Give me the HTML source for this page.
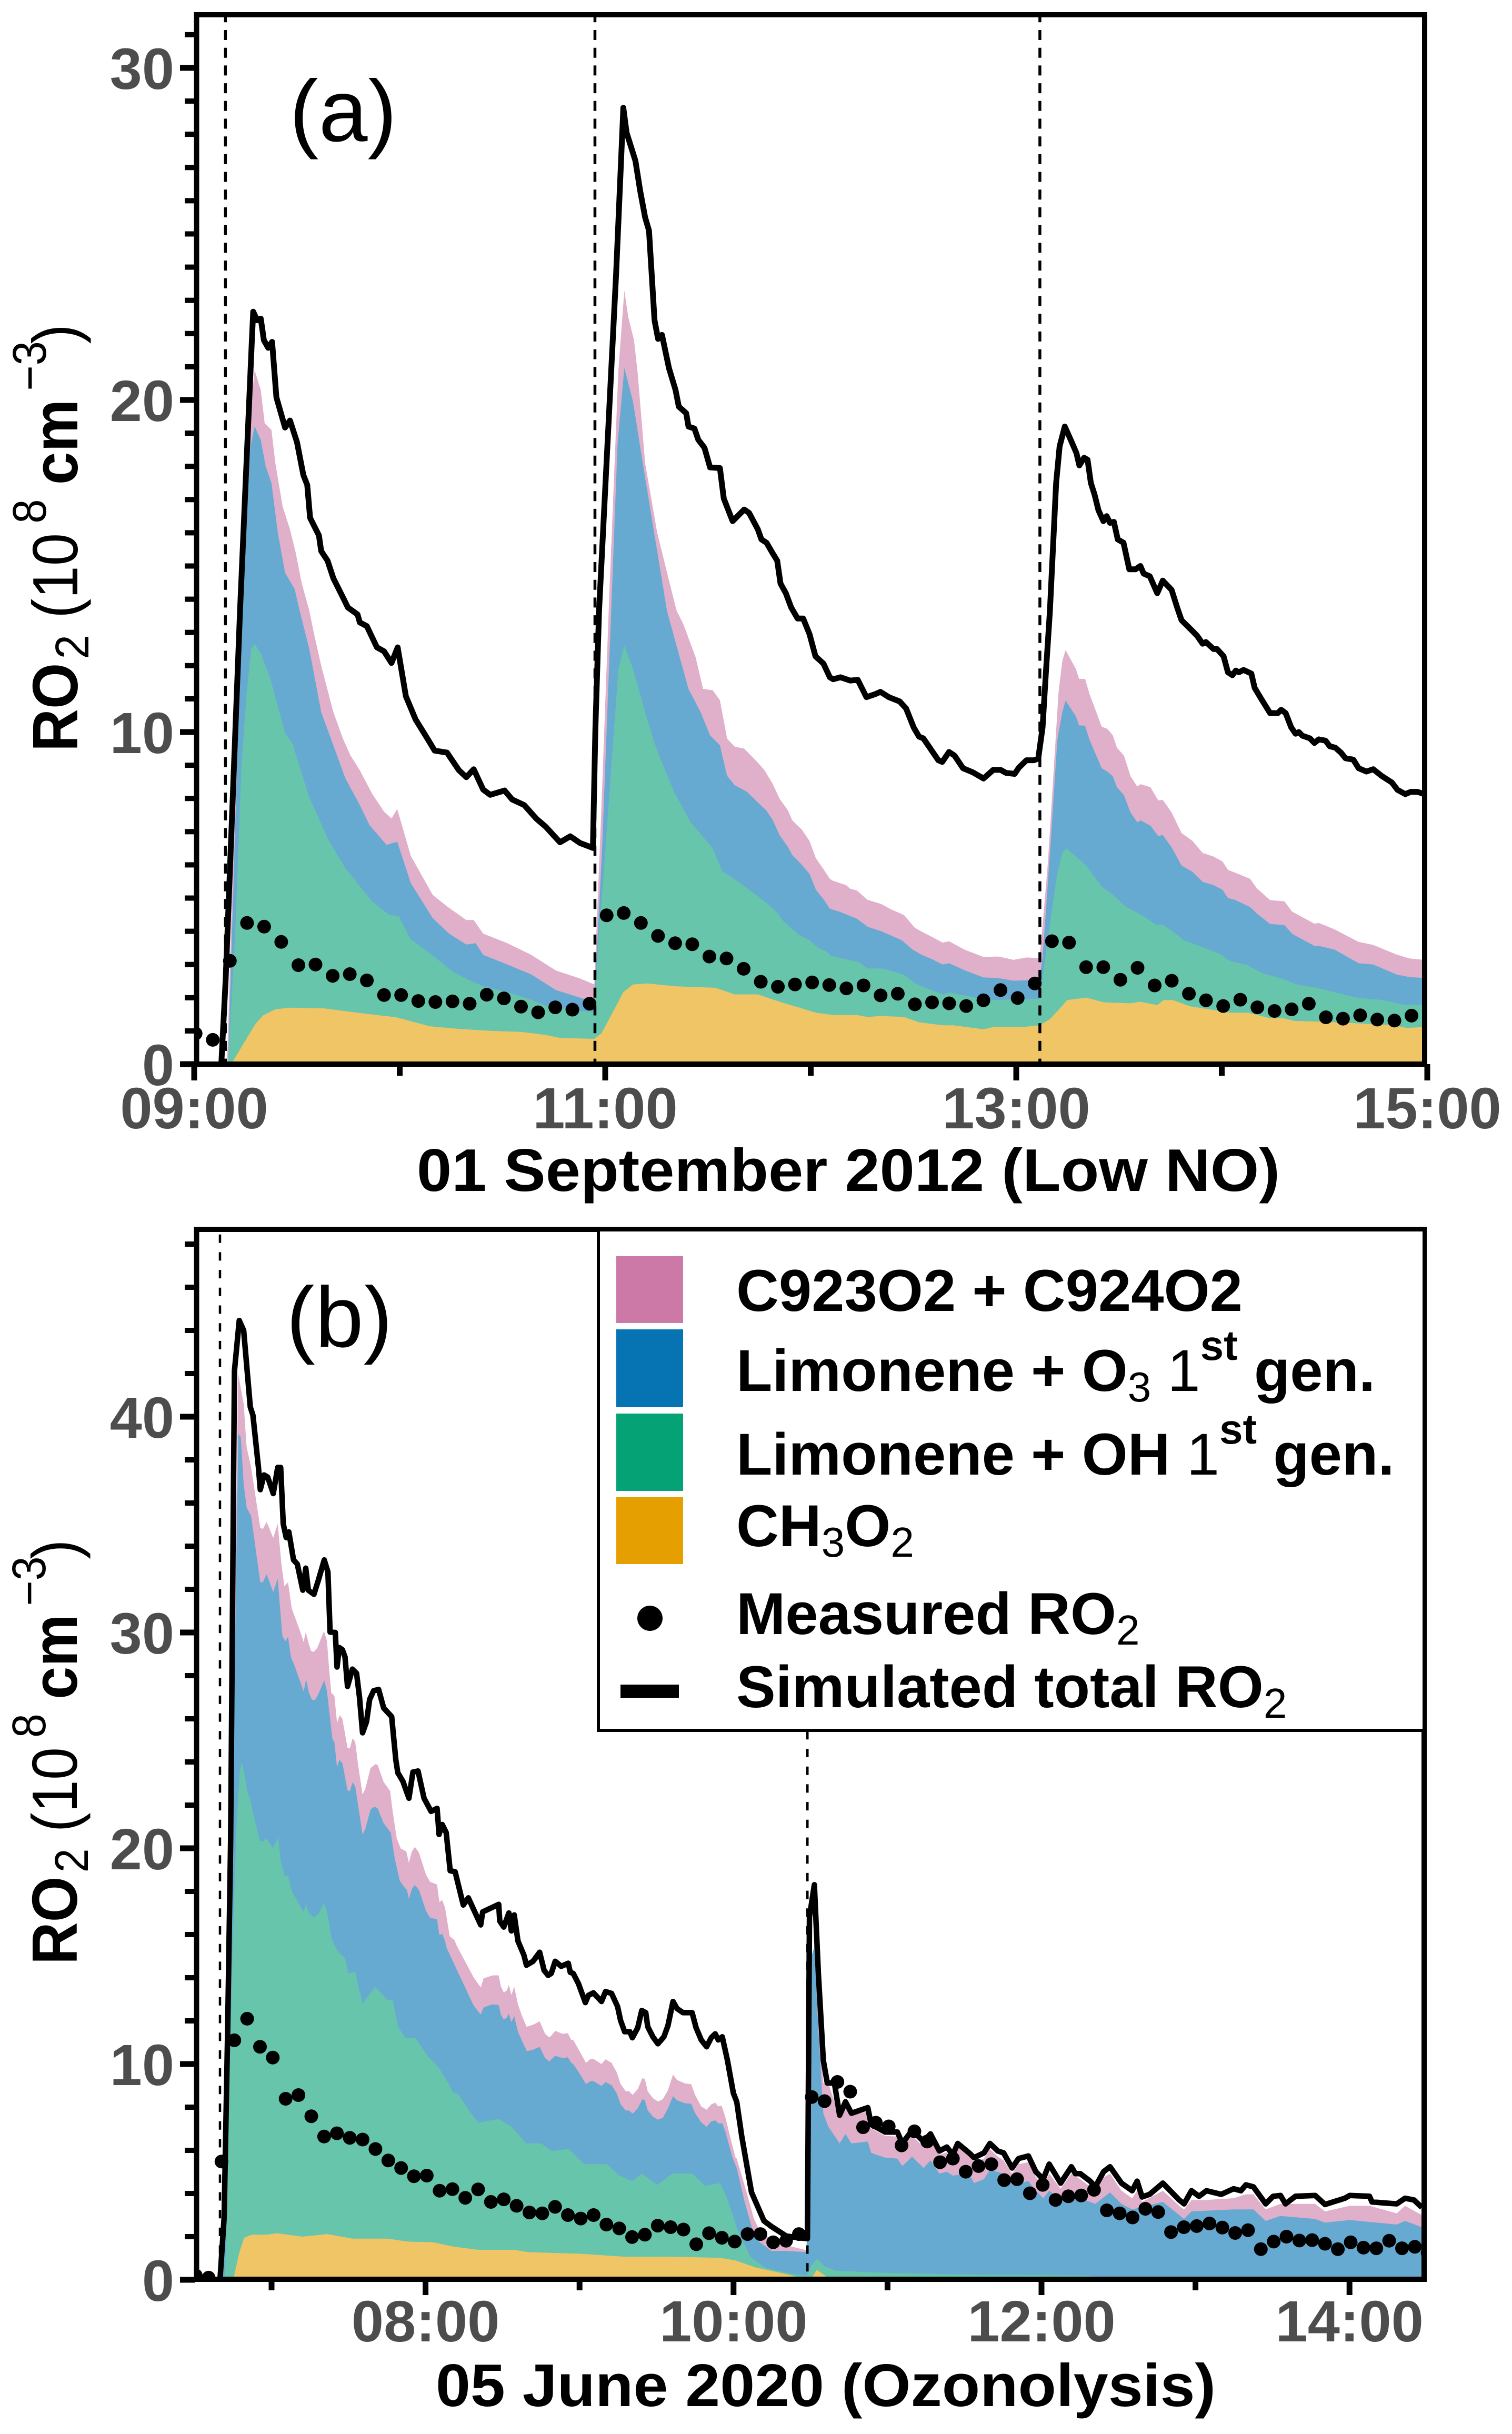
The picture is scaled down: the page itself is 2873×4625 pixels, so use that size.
<!DOCTYPE html>
<html lang="en">
<head>
<meta charset="utf-8">
<title>RO2 time series chart</title>
<style>
html,body{margin:0;padding:0;background:#fff;}
svg{display:block;font-family:"Liberation Sans",Arial,sans-serif;}
</style>
</head>
<body>
<svg id="chart" xmlns="http://www.w3.org/2000/svg" width="2873" height="4625" viewBox="0 0 2873 4625">
<defs>
<clipPath id="clipA"><rect x="374" y="28" width="2333" height="1994"/></clipPath>
<clipPath id="clipB"><rect x="374" y="2336" width="2332" height="1996"/></clipPath>
<clipPath id="clipLabelA"><rect x="500" y="148" width="300" height="155"/></clipPath>
<clipPath id="clipLabelB"><rect x="500" y="2441" width="300" height="153"/></clipPath>
</defs>
<rect x="0" y="0" width="2873" height="4625" fill="#ffffff"/>

<g id="panelA"></g>
<g id="panelB"></g>

<g clip-path="url(#clipLabelA)"><text x="550" y="268" font-size="167" fill="#000">(a)</text></g>
<g clip-path="url(#clipLabelB)"><text x="544" y="2559" font-size="165" fill="#000">(b)</text></g>

<text transform="translate(147,1428) rotate(-90) scale(0.92,1)" font-size="122" fill="#000"><tspan font-weight="bold">RO</tspan><tspan font-size="90" x="191" dy="21">2</tspan><tspan x="275" dy="-21">(10</tspan><tspan font-size="90" x="471" dy="-60">8</tspan><tspan x="551" dy="60" font-weight="bold">cm</tspan><tspan font-size="90" x="745" dy="-60">&#8722;3</tspan><tspan x="842" dy="60">)</tspan></text>
<text transform="translate(146,3733) rotate(-90) scale(0.915,1)" font-size="122" fill="#000"><tspan font-weight="bold">RO</tspan><tspan font-size="90" x="191" dy="21">2</tspan><tspan x="275" dy="-21">(10</tspan><tspan font-size="90" x="471" dy="-60">8</tspan><tspan x="551" dy="60" font-weight="bold">cm</tspan><tspan font-size="90" x="745" dy="-60">&#8722;3</tspan><tspan x="842" dy="60">)</tspan></text>

<text x="792" y="2263" font-size="114" font-weight="bold" fill="#000" textLength="1640" lengthAdjust="spacingAndGlyphs">01 September 2012 (Low NO)</text>
<text x="828" y="4572" font-size="114" font-weight="bold" fill="#000" textLength="1482" lengthAdjust="spacingAndGlyphs">05 June 2020 (Ozonolysis)</text>

<g>
<rect x="1137" y="2336" width="1569" height="952" fill="#ffffff" stroke="#000" stroke-width="6"/>
<rect x="1137" y="2332" width="1569" height="8" fill="#000"/>
<rect x="1171" y="2387" width="127" height="127" fill="#CC79A7"/>
<rect x="1171" y="2526" width="127" height="148" fill="#0673B3"/>
<rect x="1171" y="2686" width="127" height="147" fill="#05A275"/>
<rect x="1171" y="2845" width="127" height="127" fill="#E69F00"/>
<circle cx="1235" cy="3075" r="24" fill="#000"/>
<rect x="1179" y="3201" width="111" height="25" fill="#000"/>
<g font-size="112" font-weight="bold" fill="#000">
<text x="1399" y="2491">C923O2 + C924O2</text>
<text x="1399" y="2643">Limonene + O<tspan font-size="80" font-weight="normal" dy="20">3</tspan><tspan dy="-20" font-weight="normal"> 1</tspan><tspan font-size="80" dy="-59">st</tspan><tspan dy="59"> gen.</tspan></text>
<text x="1399" y="2802">Limonene + OH <tspan font-weight="normal">1</tspan><tspan font-size="80" dy="-59">st</tspan><tspan dy="59"> gen.</tspan></text>
<text x="1399" y="2938">CH<tspan font-size="80" font-weight="normal" dy="20">3</tspan><tspan dy="-20">O</tspan><tspan font-size="80" font-weight="normal" dy="20">2</tspan></text>
<text x="1399" y="3105">Measured RO<tspan font-size="80" font-weight="normal" dy="20">2</tspan></text>
<text x="1399" y="3244">Simulated total RO<tspan font-size="80" font-weight="normal" dy="20">2</tspan></text>
</g>
</g>
</svg>

<script>
/* ---------- Panel (a): 01 September 2012 ---------- */
const aYMajorLabels = [0, 10, 20, 30];
const aYMinorTicks = [1,2,3,4,5,6,7,8,9,11,12,13,14,15,16,17,18,19,21,22,23,24,25,26,27,28,29,31];
const aXMajorHours = [9, 11, 13, 15];
const aXMajorLabels = ['09:00', '11:00', '13:00', '15:00'];
const aXMinorHours = [10, 12, 14];
const aDashHours = [9.152, 10.95, 13.115];

const aTotalT = [9.132,9.153,9.223,9.28,9.287,9.306,9.324,9.339,9.36,9.379,9.4,9.442,9.466,9.5,9.531,9.55,9.564,9.607,9.618,9.649,9.677,9.72,9.748,9.795,9.806,9.84,9.889,9.924,9.96,9.99,10.03,10.077,10.136,10.17,10.23,10.288,10.324,10.36,10.406,10.44,10.51,10.547,10.606,10.665,10.71,10.78,10.83,10.877,10.94,10.952,10.97,11.053,11.078,11.088,11.104,11.147,11.17,11.194,11.213,11.24,11.257,11.276,11.31,11.342,11.358,11.394,11.405,11.434,11.453,11.483,11.51,11.558,11.577,11.62,11.676,11.7,11.743,11.76,11.785,11.813,11.837,11.853,11.879,11.905,11.936,11.963,11.994,12.023,12.062,12.093,12.109,12.145,12.192,12.229,12.271,12.313,12.339,12.38,12.433,12.464,12.501,12.527,12.548,12.59,12.621,12.64,12.673,12.7,12.741,12.788,12.841,12.888,12.924,12.95,12.992,13.013,13.05,13.086,13.107,13.128,13.144,13.164,13.194,13.211,13.236,13.265,13.293,13.307,13.33,13.347,13.363,13.381,13.4,13.424,13.44,13.456,13.475,13.494,13.522,13.55,13.58,13.604,13.62,13.65,13.686,13.713,13.756,13.783,13.804,13.858,13.88,13.907,13.923,13.96,13.977,14.009,14.03,14.052,14.068,14.084,14.106,14.144,14.16,14.192,14.235,14.273,14.289,14.311,14.338,14.359,14.375,14.392,14.429,14.451,14.472,14.505,14.526,14.553,14.58,14.602,14.64,14.666,14.704,14.737,14.78,14.828,14.855,14.893,14.92,14.952,15];
const aTotalV = [0,2.52,13.66,21.7,22.66,22.4,22.45,21.8,21.57,21.75,20.08,19.17,19.38,18.73,17.74,17.44,16.45,15.92,15.45,15.16,14.63,14.1,13.75,13.54,13.3,13.19,12.55,12.43,12.08,12.55,11.08,10.38,9.79,9.44,9.38,8.85,8.64,8.88,8.27,8.11,8.24,7.97,7.8,7.39,7.15,6.68,6.86,6.66,6.51,10.1,13.66,23.8,27.35,28.8,28.05,27.2,26.3,25.5,25.1,22.4,21.84,21.96,20.96,20.3,19.8,19.6,19.2,19.14,18.8,18.56,17.97,17.95,17.03,16.35,16.7,16.6,16.1,15.8,15.7,15.4,15.16,14.47,14.18,13.75,13.42,13.42,12.95,12.28,12.06,11.65,11.59,11.65,11.55,11.57,11.05,11.14,11.21,11.05,10.92,10.71,10.14,9.86,9.81,9.43,9.15,9.1,9.4,9.29,8.91,8.79,8.6,8.86,8.86,8.77,8.74,8.93,9.15,9.15,9.2,10.14,11.76,13.66,17.5,18.6,19.2,18.8,18.4,18.03,18.26,18.2,17.5,17.15,16.68,16.35,16.5,16.3,16.33,15.8,15.7,14.9,14.9,15.0,14.77,14.69,14.18,14.56,14.28,13.75,13.37,13.04,12.9,12.66,12.71,12.5,12.5,12.28,11.8,11.71,11.85,11.8,11.87,11.76,11.33,11.0,10.57,10.57,10.67,10.57,10.14,9.95,10.0,9.89,9.81,9.67,9.78,9.74,9.57,9.53,9.38,9.21,9.17,8.91,8.81,8.88,8.67,8.48,8.26,8.13,8.2,8.2,8.1];

const aPinkT = [9.16,9.215,9.266,9.294,9.324,9.343,9.376,9.395,9.43,9.466,9.494,9.524,9.56,9.583,9.618,9.677,9.724,9.76,9.806,9.865,9.924,9.96,9.988,10.054,10.16,10.23,10.324,10.36,10.406,10.524,10.64,10.76,10.877,10.947,10.98,11.022,11.064,11.093,11.112,11.14,11.158,11.194,11.253,11.31,11.347,11.38,11.44,11.476,11.523,11.558,11.593,11.63,11.676,11.743,11.774,11.816,11.848,11.89,11.91,11.957,11.994,12.025,12.062,12.093,12.109,12.172,12.192,12.224,12.276,12.344,12.391,12.454,12.506,12.537,12.59,12.642,12.673,12.747,12.84,12.914,12.987,13.05,13.113,13.123,13.154,13.206,13.224,13.24,13.29,13.306,13.335,13.357,13.416,13.443,13.47,13.49,13.524,13.556,13.589,13.605,13.653,13.691,13.713,13.756,13.804,13.858,13.907,13.96,14.004,14.03,14.063,14.138,14.17,14.235,14.305,14.343,14.451,14.472,14.548,14.666,14.737,14.85,14.914,15];
const aPinkTop = [0,12,19.14,20.9,20.3,19.3,19.1,18.1,16.8,16.1,15.4,14.46,13.66,12.96,12.0,10.6,9.8,9.3,8.85,8.15,7.6,7.4,7.68,6.27,5.1,4.75,4.34,4.34,3.93,3.64,3.29,2.82,2.58,2.4,7.5,14.5,20.9,23.3,22.5,21.8,20.8,18.1,16,14.57,13.66,13.25,12.25,11.3,11.26,10.96,9.8,9.56,9.5,9.08,8.86,8.43,8.0,7.63,7.34,7.06,6.72,6.2,5.87,5.58,5.52,5.39,5.28,5.23,4.95,4.82,4.66,4.49,4.11,4.0,3.83,3.66,3.7,3.45,3.23,3.24,3.14,3.21,3.19,3.8,6.06,11.2,12.14,12.47,11.9,11.6,11.6,11.14,10.16,10.1,9.9,9.53,9.29,8.67,8.36,8.43,8.34,7.94,7.96,7.58,6.96,6.72,6.36,6.25,6.1,5.85,5.77,5.58,5.3,4.94,4.9,4.59,4.23,4.25,4.06,3.68,3.59,3.3,3.18,3.13];

const aBlueT = [9.165,9.223,9.254,9.273,9.294,9.324,9.348,9.376,9.407,9.442,9.489,9.513,9.56,9.618,9.677,9.736,9.806,9.853,9.936,9.988,10.054,10.16,10.24,10.324,10.37,10.406,10.524,10.64,10.76,10.877,10.947,10.985,11.025,11.06,11.093,11.135,11.18,11.3,11.347,11.405,11.464,11.51,11.558,11.593,11.63,11.69,11.743,11.785,11.816,11.848,11.89,11.91,11.957,11.994,12.025,12.062,12.093,12.14,12.224,12.276,12.344,12.443,12.495,12.537,12.59,12.642,12.673,12.747,12.84,12.914,12.987,13.113,13.128,13.165,13.2,13.224,13.24,13.29,13.306,13.335,13.357,13.416,13.443,13.47,13.49,13.524,13.556,13.589,13.605,13.653,13.691,13.713,13.756,13.804,13.858,13.907,13.96,14.004,14.03,14.063,14.138,14.17,14.235,14.305,14.343,14.451,14.472,14.548,14.666,14.737,14.85,14.914,15];
const aBlueTop = [0,12,16.2,18.56,19.2,18.8,18.0,17.5,16.0,14.8,14.3,13.66,12.5,10.6,9.6,8.6,7.8,7.2,6.6,6.7,5.45,4.4,3.93,3.6,3.64,3.29,3.0,2.7,2.23,2.0,1.87,6.5,13,18.67,20.96,19.96,18.2,13.66,12.6,11.3,10.6,9.9,9.6,8.68,8.4,8.2,7.88,7.63,7.34,6.9,6.53,6.3,6.0,5.73,5.25,4.97,4.68,4.59,4.38,4.14,4.0,3.73,3.45,3.3,3.16,3.0,3.04,2.83,2.61,2.59,2.51,2.54,3.2,6.44,9.76,10.6,10.95,10.48,10.2,10.19,9.76,8.91,8.81,8.67,8.34,8.1,7.58,7.28,7.34,7.18,6.87,6.9,6.53,5.98,5.79,5.49,5.39,5.25,5.0,4.95,4.73,4.54,4.22,4.19,3.92,3.56,3.56,3.45,3.04,3.0,2.7,2.62,2.59];

const aGreenT = [9.165,9.2,9.23,9.254,9.277,9.294,9.324,9.371,9.442,9.477,9.56,9.654,9.736,9.865,9.948,9.995,10.054,10.16,10.254,10.324,10.406,10.524,10.64,10.71,10.877,10.947,10.97,10.99,11.03,11.064,11.093,11.135,11.194,11.24,11.264,11.335,11.417,11.523,11.57,11.63,11.743,11.827,11.868,11.94,11.994,12.036,12.077,12.098,12.234,12.276,12.35,12.454,12.516,12.642,12.673,12.83,12.893,13.113,13.123,13.165,13.2,13.224,13.243,13.29,13.337,13.382,13.416,13.47,13.535,13.61,13.686,13.713,13.761,13.815,13.9,13.998,14.041,14.117,14.203,14.3,14.365,14.462,14.656,14.785,14.893,15];
const aGreenTop = [0,4,8.97,11.1,12.5,12.66,12.37,11.6,9.97,9.67,8.03,6.74,5.9,4.9,4.5,4.46,3.75,3.28,2.8,2.57,2.34,2.17,1.94,1.76,1.6,1.58,4.05,5.5,9,11.9,12.6,11.9,10.6,9.67,9.26,8.2,7.27,6.5,5.8,5.57,5.06,4.63,4.3,3.9,3.73,3.5,3.4,3.26,3.07,2.88,2.88,2.69,2.4,2.1,2.16,1.97,1.93,1.97,2.4,4.25,5.77,6.34,6.5,6.25,6.0,5.63,5.35,5.1,4.73,4.49,4.18,4.2,4.0,3.73,3.54,3.3,3.1,3.0,2.73,2.56,2.4,2.3,2.0,1.93,1.78,1.78];

const aYellowT = [9.18,9.254,9.3,9.336,9.395,9.466,9.63,9.818,9.983,10.147,10.288,10.45,10.594,10.71,10.78,10.947,10.982,11.04,11.088,11.135,11.205,11.347,11.535,11.63,11.743,11.848,11.94,12.025,12.109,12.224,12.276,12.339,12.454,12.527,12.642,12.694,12.84,12.893,13.04,13.113,13.165,13.227,13.248,13.342,13.427,13.556,13.6,13.686,13.718,13.761,13.847,14.041,14.128,14.235,14.3,14.354,14.472,14.623,14.84,14.898,15];
const aYellowTop = [0,0.76,1.23,1.47,1.65,1.7,1.68,1.53,1.41,1.14,1.06,1.0,0.97,0.88,0.79,0.76,0.93,1.6,2.17,2.4,2.43,2.34,2.3,2.1,2.1,1.88,1.71,1.55,1.48,1.48,1.42,1.45,1.42,1.26,1.17,1.17,1.05,1.12,1.12,1.17,1.36,1.78,1.93,2.0,1.86,1.83,1.88,1.78,1.93,1.93,1.74,1.55,1.55,1.38,1.38,1.3,1.28,1.24,1.17,1.09,1.12];

const aMeasuredStartHour = 9.007;
const aMeasuredStepHours = 0.08333;
const aMeasured = [0.92,0.73,3.11,4.25,4.14,3.68,2.98,3.0,2.66,2.71,2.52,2.08,2.08,1.9,1.87,1.89,1.82,2.09,1.98,1.73,1.56,1.71,1.64,1.82,4.48,4.55,4.25,3.86,3.64,3.61,3.24,3.18,2.87,2.48,2.33,2.4,2.46,2.38,2.28,2.37,2.07,2.12,1.8,1.86,1.83,1.75,1.92,2.23,1.99,2.43,3.7,3.66,2.92,2.92,2.54,2.9,2.37,2.51,2.12,1.92,1.75,1.94,1.71,1.6,1.65,1.82,1.41,1.37,1.47,1.34,1.31,1.46];

/* ---------- Panel (b): 05 June 2020 ---------- */
const bYMajorLabels = [0, 10, 20, 30, 40];
const bYMinorTicks = [2,4,6,8,12,14,16,18,22,24,26,28,32,34,36,38,42,44,46,48];
const bXMajorHours = [8, 10, 12, 14];
const bXMajorLabels = ['08:00', '10:00', '12:00', '14:00'];
const bXMinorHours = [7, 9, 11, 13];
const bDashHours = [6.665, 10.48];

const bTotalT = [6.666,6.692,6.715,6.734,6.759,6.79,6.819,6.862,6.879,6.915,6.927,6.951,6.975,7.011,7.04,7.059,7.076,7.095,7.112,7.143,7.167,7.203,7.222,7.239,7.275,7.304,7.342,7.366,7.38,7.414,7.425,7.44,7.46,7.477,7.493,7.525,7.552,7.571,7.591,7.617,7.637,7.663,7.695,7.728,7.78,7.807,7.82,7.853,7.892,7.918,7.951,7.99,8.036,8.075,8.088,8.108,8.134,8.16,8.192,8.245,8.278,8.358,8.371,8.475,8.482,8.508,8.541,8.557,8.576,8.6,8.639,8.655,8.698,8.741,8.77,8.796,8.816,8.842,8.881,8.927,8.94,8.959,8.992,9.038,9.057,9.09,9.143,9.169,9.208,9.247,9.267,9.293,9.326,9.343,9.378,9.404,9.43,9.443,9.476,9.509,9.548,9.574,9.607,9.633,9.672,9.731,9.757,9.79,9.825,9.855,9.881,9.901,9.927,9.96,9.999,10.021,10.053,10.117,10.198,10.246,10.342,10.422,10.48,10.493,10.525,10.551,10.583,10.609,10.655,10.689,10.727,10.766,10.872,10.894,10.984,11.064,11.096,11.16,11.234,11.279,11.337,11.385,11.424,11.456,11.53,11.562,11.626,11.665,11.716,11.754,11.809,11.851,11.915,11.963,12.011,12.05,12.124,12.194,12.22,12.252,12.316,12.349,12.403,12.445,12.519,12.589,12.621,12.653,12.702,12.788,12.894,12.926,12.974,13.023,13.071,13.167,13.247,13.295,13.327,13.376,13.456,13.504,13.552,13.584,13.649,13.777,13.841,13.97,14.002,14.13,14.146,14.227,14.307,14.361,14.419,14.47];
const bTotalV = [0.1,2.9,11.6,20.3,42.13,44.46,44.0,40.45,40.07,37.65,36.62,37.3,37.2,36.44,37.65,37.65,35.04,34.4,34.66,33.36,33.17,31.96,32.98,31.96,31.77,32.43,33.36,32.8,30.02,30,28.4,29.3,29.2,28.86,27.5,28.3,28.11,27,25.35,25.87,26.9,27.3,27.36,26.5,26.1,24.1,23.5,23.1,22.32,23.53,23.58,22.32,21.71,21.85,20.64,21.1,20.73,18.96,18.91,17.37,17.7,16.45,17.05,17.4,16.63,16.35,17.0,16.17,16.91,15.7,15.04,14.58,14.76,15.18,14.34,14.11,14.2,14.76,14.53,14.67,14.25,14.2,13.74,12.85,13.18,13.3,12.9,13.36,13.27,12.66,12.01,11.5,11.5,11.22,11.68,12.48,12.38,11.73,11.26,10.94,11.26,11.78,12.9,12.57,12.38,12.38,11.68,11.12,10.8,11.22,11.4,11.12,11.26,10.19,8.65,8.25,6.67,4.05,2.73,2.47,2.03,1.95,1.91,16.82,18.31,14.2,10.17,9.12,9.12,7.63,8.25,7.72,7.98,7.2,6.85,6.85,6.32,6.93,6.41,6.76,5.97,6.15,5.8,6.32,5.88,5.66,5.88,6.32,5.97,5.88,5.18,5.62,5.74,5.01,4.66,5.36,4.48,5.24,4.92,4.92,4.57,4.31,5.01,5.24,4.48,4.13,4.57,3.84,3.96,4.48,3.7,3.52,4.13,3.87,4.13,3.96,4.22,4.13,4.4,4.31,3.52,3.87,3.91,3.52,3.87,3.91,3.49,3.78,3.91,3.87,3.61,3.56,3.52,3.78,3.7,3.35];

const bPinkT = [6.68,6.743,6.783,6.819,6.838,6.867,6.927,6.944,6.968,7.011,7.04,7.064,7.083,7.107,7.131,7.155,7.185,7.208,7.222,7.242,7.257,7.273,7.297,7.34,7.36,7.375,7.388,7.408,7.425,7.443,7.46,7.493,7.509,7.526,7.543,7.565,7.591,7.608,7.643,7.676,7.689,7.728,7.77,7.787,7.813,7.839,7.875,7.892,7.911,7.931,7.957,8.003,8.029,8.075,8.09,8.108,8.127,8.157,8.188,8.206,8.312,8.358,8.377,8.436,8.475,8.489,8.508,8.528,8.541,8.557,8.576,8.6,8.626,8.656,8.698,8.741,8.776,8.802,8.816,8.842,8.888,8.924,8.946,8.959,8.999,9.042,9.071,9.09,9.143,9.169,9.208,9.241,9.267,9.3,9.322,9.345,9.378,9.408,9.424,9.443,9.476,9.509,9.541,9.574,9.607,9.633,9.685,9.725,9.751,9.79,9.825,9.855,9.881,9.901,9.923,9.947,9.986,10.012,10.021,10.085,10.133,10.18,10.342,10.474,10.493,10.525,10.551,10.583,10.615,10.689,10.727,10.766,10.872,10.894,10.984,11.064,11.096,11.16,11.234,11.279,11.337,11.385,11.424,11.456,11.53,11.562,11.626,11.665,11.716,11.754,11.809,11.851,11.915,11.963,12.011,12.05,12.124,12.194,12.252,12.316,12.349,12.403,12.445,12.519,12.589,12.621,12.653,12.788,12.894,12.926,12.974,13.071,13.247,13.327,13.376,13.456,13.552,13.777,13.841,14.002,14.13,14.307,14.361,14.47];
const bPinkTop = [0,20.3,42,40.6,38.6,37.65,34.85,34.8,35.13,34.38,35.04,33.17,32.15,32.33,31.12,30.65,30.07,29.56,30.02,29.46,29.14,29.1,29.28,30.07,29.6,28.2,27.2,27.06,25.82,26.17,26.0,24.65,24.63,25.1,24.93,23.72,22.49,22.74,23.72,23.9,23.86,23.07,22.65,21.67,20.45,19.99,19.85,19.33,19.85,20.06,19.8,18.77,18.45,18.32,17.51,17.6,17.23,15.92,15.74,15.43,14.02,13.55,13.97,14.11,14.11,13.6,13.32,13.41,13.67,13.2,13.58,12.76,12.24,11.73,11.82,11.98,11.4,11.24,11.31,11.54,11.4,11.43,11.12,11.12,10.61,10.05,10.24,10.24,10.0,10.22,10.05,9.63,9.07,8.74,8.74,8.57,8.84,9.35,9.3,8.74,8.42,8.26,8.37,8.79,9.51,9.26,9.1,9.07,8.56,8.04,7.88,8.13,8.21,8.04,8.07,7.53,6.41,5.68,5.62,4.05,2.82,2.12,1.6,1.37,9.5,15.8,12,9.12,9.12,7.55,7.98,7.63,7.8,7.02,6.67,6.64,6.15,6.67,6.15,6.5,5.8,5.9,5.62,6.15,5.71,5.45,5.62,6.06,5.71,5.53,4.92,5.36,5.45,4.75,4.31,4.92,4.22,4.92,4.66,4.31,4.05,4.75,4.92,4.13,3.78,4.13,3.61,4.13,3.43,3.26,3.7,3.7,3.78,3.96,3.96,3.26,3.52,3.52,3.17,3.43,3.43,3.08,3.43,3.0];

const bBlueT = [6.685,6.743,6.784,6.8,6.819,6.838,6.867,6.927,6.944,6.968,7.011,7.04,7.07,7.09,7.107,7.127,7.146,7.208,7.225,7.242,7.261,7.277,7.297,7.342,7.36,7.375,7.395,7.408,7.425,7.44,7.46,7.493,7.509,7.526,7.543,7.565,7.591,7.608,7.643,7.669,7.689,7.728,7.774,7.8,7.833,7.866,7.879,7.892,7.911,7.931,7.957,8.003,8.029,8.075,8.09,8.108,8.127,8.134,8.312,8.358,8.377,8.43,8.475,8.489,8.508,8.528,8.541,8.557,8.576,8.6,8.632,8.659,8.698,8.741,8.776,8.802,8.842,8.888,8.924,8.946,8.959,8.999,9.042,9.071,9.09,9.143,9.169,9.208,9.241,9.267,9.3,9.322,9.345,9.378,9.408,9.424,9.443,9.476,9.509,9.541,9.574,9.607,9.633,9.685,9.725,9.751,9.79,9.825,9.855,9.881,9.901,9.927,9.947,9.992,10.021,10.069,10.117,10.165,10.246,10.342,10.474,10.493,10.509,10.525,10.551,10.583,10.615,10.689,10.727,10.766,10.872,10.894,10.984,11.064,11.096,11.16,11.234,11.279,11.337,11.385,11.424,11.53,11.562,11.626,11.665,11.754,11.809,11.915,11.963,12.011,12.05,12.124,12.194,12.252,12.349,12.445,12.519,12.589,12.788,12.926,12.974,13.247,13.376,13.456,13.552,13.777,13.841,14.002,14.307,14.361,14.47];
const bBlueTop = [0,20.3,39.2,39.05,36.9,35.8,35.4,32.33,32.33,32.7,31.87,32.5,29.84,29.6,29.8,28.81,28.53,27.27,27.83,27.22,26.9,26.85,27.04,27.78,27.27,26.34,25.07,24.93,23.74,24.1,23.95,22.69,22.65,23.05,22.88,21.85,20.64,20.87,21.8,21.93,21.85,21.15,20.73,19.52,18.49,18.16,18.07,17.65,18.12,18.3,18.07,17.09,16.79,16.7,15.97,16.04,15.7,15.43,12.71,12.29,12.62,12.76,12.74,12.29,12.06,12.15,12.34,11.94,12.22,11.5,10.98,10.59,10.66,10.8,10.28,10.12,10.38,10.28,10.31,10.05,10.0,9.58,9.07,9.21,9.21,8.98,9.16,9.02,8.65,8.13,7.85,7.85,7.7,7.95,8.37,8.32,7.85,7.57,7.42,7.51,7.95,8.51,8.32,8.18,8.16,7.72,7.3,7.09,7.34,7.39,7.25,7.25,6.87,5.68,5.18,3.7,2.47,1.77,1.34,1.34,1.28,8.95,15.07,15.42,11.57,7.72,7.11,6.32,6.76,6.32,6.41,5.88,5.66,5.62,5.27,5.71,5.18,5.53,4.92,5.01,4.83,4.92,4.48,4.66,5.1,4.92,4.4,4.57,4.13,3.78,4.13,3.7,4.13,3.78,3.52,4.05,3.52,3.26,3.61,2.82,3.17,3.26,3.26,2.73,2.96,2.82,2.65,2.77,2.56,2.73,2.44];

const bGreenT = [6.698,6.747,6.773,6.793,6.806,6.826,6.842,6.859,6.885,6.924,6.944,6.959,6.976,7.009,7.042,7.061,7.087,7.107,7.127,7.153,7.208,7.222,7.244,7.273,7.303,7.342,7.362,7.388,7.414,7.444,7.477,7.5,7.542,7.591,7.672,7.754,7.787,7.82,7.869,7.934,8.016,8.088,8.147,8.18,8.212,8.278,8.343,8.474,8.556,8.654,8.752,8.817,8.932,9.03,9.177,9.259,9.341,9.406,9.504,9.602,9.733,9.815,9.913,9.962,10.027,10.109,10.207,10.364,10.474,10.503,10.541,10.592,10.663,10.984,11.466,12.268,12.6];
const bGreenTop = [0,15.43,21.2,23.53,24.0,23.35,22.6,22.32,21.48,20.36,20.3,20.45,20.36,19.99,20.5,19.33,18.68,18.73,18.07,17.74,17.04,17.39,17.0,16.79,16.95,17.45,17.0,15.88,15.43,15.1,14.9,14.2,14.28,12.8,13.58,12.97,12.97,11.75,11.22,11.22,10.35,9.82,9.12,8.68,8.6,7.9,7.28,7.46,7.11,6.32,6.32,5.97,6.06,5.36,5.36,4.83,4.57,4.92,4.4,4.92,4.92,4.36,4.48,3.7,2.3,1.07,0.55,0.3,0.2,0.63,0.98,0.63,0.42,0.32,0.25,0.2,0];

const bYellowT = [6.757,6.79,6.822,6.871,6.97,7.035,7.198,7.362,7.525,7.754,7.886,8.05,8.18,8.343,8.572,8.67,8.997,9.29,9.586,9.913,10.011,10.142,10.272,10.364,10.47,10.5,10.541,10.631];
const bYellowTop = [0.2,1.25,1.95,2.09,2.09,2.16,2.0,2.12,1.91,1.91,1.77,1.74,1.54,1.39,1.39,1.28,1.21,1.07,1.07,1.02,0.9,0.58,0.37,0.23,0,0,0.46,0];

const bMeasuredStartHour = 6.508;
const bMeasuredStepHours = 0.08333;
const bMeasured = [0.2,0.1,5.48,11.1,12.1,10.8,10.3,8.39,8.56,7.58,6.64,6.79,6.58,6.5,6.06,5.53,5.18,4.8,4.83,4.13,4.2,3.8,4.19,3.61,3.73,3.43,3.12,3.08,3.38,3.0,2.84,3.0,2.56,2.38,1.98,2.09,2.51,2.44,2.33,1.65,2.16,1.95,1.77,2.12,2.12,1.74,1.81,2.12,8.47,8.28,9.17,8.72,7.07,7.28,7.11,6.23,6.88,6.41,5.45,5.62,5.01,5.27,5.36,4.62,4.66,4.01,4.4,3.7,3.87,3.91,4.17,3.22,3.08,2.89,3.29,3.14,2.21,2.44,2.49,2.61,2.42,2.17,2.3,1.42,1.77,2.0,1.82,1.84,1.67,1.42,1.74,1.49,1.46,1.81,1.46,1.53,1.25];

/* ---------- Axis functions ---------- */
const aX = function (t) { return 369 + (t - 9) * 390.5; };
const aY = function (v) { return 2022 - v * 63.1; };
const bX = function (t) { return 808.6 + (t - 8) * 292.6; };
const bY = function (v) { return 4332 - v * 41.0; };

const NS = 'http://www.w3.org/2000/svg';
function mk(parent, tag) {
  const el = document.createElementNS(NS, tag);
  parent.appendChild(el);
  return el;
}
function linePath(ts, vs, xf, yf) {
  let d = '';
  const n = Math.min(ts.length, vs.length);
  for (let i = 0; i < n; i++) {
    d += (i ? 'L' : 'M') + xf(ts[i]).toFixed(1) + ' ' + yf(vs[i]).toFixed(1);
  }
  return d;
}
function areaPath(ts, vs, xf, yf) {
  const n = Math.min(ts.length, vs.length);
  return linePath(ts, vs, xf, yf) + 'L' + xf(ts[n - 1]).toFixed(1) + ' ' + yf(0) + 'L' + xf(ts[0]).toFixed(1) + ' ' + yf(0) + 'Z';
}

function drawArea(parent, name, ts, vs, xf, yf, color) {
  const p = mk(parent, 'path');
  
  
  p.setAttribute('d', areaPath(ts, vs, xf, yf));
  p.setAttribute('fill', color);
}

function drawPanel(cfg) {
  const root = document.getElementById(cfg.id);
  const plot = mk(root, 'g');
  
  
  plot.setAttribute('clip-path', 'url(#' + cfg.clip + ')');

  drawArea(plot, cfg.prefix + '-area-c923o2', cfg.pinkT, cfg.pink, cfg.x, cfg.y, '#E0AFCA');
  drawArea(plot, cfg.prefix + '-area-limonene-o3', cfg.blueT, cfg.blue, cfg.x, cfg.y, '#66AAD1');
  drawArea(plot, cfg.prefix + '-area-limonene-oh', cfg.greenT, cfg.green, cfg.x, cfg.y, '#66C5AB');
  drawArea(plot, cfg.prefix + '-area-ch3o2', cfg.yellowT, cfg.yellow, cfg.x, cfg.y, '#F0C566');

  cfg.dashes.forEach(function (h) {
    const l = mk(plot, 'line');
    
    
    l.setAttribute('x1', cfg.x(h));
    l.setAttribute('x2', cfg.x(h));
    l.setAttribute('y1', cfg.dashTop);
    l.setAttribute('y2', cfg.bottom);
    l.setAttribute('stroke', '#000');
    l.setAttribute('stroke-width', cfg.dashWidth);
    l.setAttribute('stroke-dasharray', cfg.dashArray);
  });

  const total = mk(plot, 'path');
  
  
  total.setAttribute('d', linePath(cfg.totalT, cfg.total, cfg.x, cfg.y));
  total.setAttribute('fill', 'none');
  total.setAttribute('stroke', '#000');
  total.setAttribute('stroke-width', cfg.lineWidth);
  total.setAttribute('stroke-linejoin', 'round');

  cfg.measured.forEach(function (v, i) {
    const c = mk(plot, 'circle');
    
    
    c.setAttribute('cx', cfg.x(cfg.measStart + i * cfg.measStep).toFixed(1));
    c.setAttribute('cy', cfg.y(v).toFixed(1));
    c.setAttribute('r', '13');
    c.setAttribute('fill', '#000');
  });

  const axis = mk(root, 'g');
  
  

  cfg.yMinor.forEach(function (v) {
    const t = mk(axis, 'rect');
    
    
    t.setAttribute('x', 351);
    t.setAttribute('y', cfg.y(v) - 5);
    t.setAttribute('width', 20);
    t.setAttribute('height', 10);
  });
  cfg.yMajor.forEach(function (v) {
    const t = mk(axis, 'rect');
    
    
    t.setAttribute('x', 342);
    t.setAttribute('y', cfg.y(v) - 5.5);
    t.setAttribute('width', 29);
    t.setAttribute('height', 11);
    const lab = mk(axis, 'text');
    
    
    lab.setAttribute('x', 331);
    lab.setAttribute('y', cfg.y(v) + 40);
    lab.setAttribute('text-anchor', 'end');
    lab.setAttribute('font-size', '110');
    lab.setAttribute('font-weight', 'bold');
    lab.setAttribute('fill', '#4D4D4D');
    lab.textContent = String(v);
  });
  cfg.xMinor.forEach(function (h) {
    const t = mk(axis, 'rect');
    
    
    t.setAttribute('x', cfg.x(h) - 5.5);
    t.setAttribute('y', cfg.bottom);
    t.setAttribute('width', 11);
    t.setAttribute('height', cfg.xMinorLen);
  });
  cfg.xMajor.forEach(function (h, i) {
    const t = mk(axis, 'rect');
    
    
    t.setAttribute('x', cfg.x(h) - 5.5);
    t.setAttribute('y', cfg.bottom);
    t.setAttribute('width', 11);
    t.setAttribute('height', cfg.xMajorLen);
    const lab = mk(axis, 'text');
    
    
    lab.setAttribute('x', cfg.x(h));
    lab.setAttribute('y', cfg.xLabelY);
    lab.setAttribute('text-anchor', 'middle');
    lab.setAttribute('font-size', '110');
    lab.setAttribute('font-weight', 'bold');
    lab.setAttribute('fill', '#4D4D4D');
    lab.textContent = cfg.xLabels[i];
  });

  const frame = mk(axis, 'rect');
  
  
  frame.setAttribute('x', 373.5);
  frame.setAttribute('y', cfg.top);
  frame.setAttribute('width', cfg.right - 373.5);
  frame.setAttribute('height', cfg.bottom - cfg.top);
  frame.setAttribute('fill', 'none');
  frame.setAttribute('stroke', '#000');
  frame.setAttribute('stroke-width', '10');
}

drawPanel({
  id: 'panelA', prefix: 'panel-a', clip: 'clipA', x: aX, y: aY,
  pinkT: aPinkT, pink: aPinkTop, blueT: aBlueT, blue: aBlueTop, greenT: aGreenT, green: aGreenTop, yellowT: aYellowT, yellow: aYellowTop,
  totalT: aTotalT, total: aTotalV, measured: aMeasured, measStart: aMeasuredStartHour, measStep: aMeasuredStepHours,
  dashes: aDashHours, dashTop: 23.3, dashWidth: 5.5, dashArray: '19 14.7', lineWidth: 11,
  yMajor: aYMajorLabels, yMinor: aYMinorTicks, xMajor: aXMajorHours, xMinor: aXMinorHours, xLabels: aXMajorLabels,
  top: 28, bottom: 2022, right: 2707, xMajorLen: 31, xMinorLen: 22, xLabelY: 2144
});
drawPanel({
  id: 'panelB', prefix: 'panel-b', clip: 'clipB', x: bX, y: bY,
  pinkT: bPinkT, pink: bPinkTop, blueT: bBlueT, blue: bBlueTop, greenT: bGreenT, green: bGreenTop, yellowT: bYellowT, yellow: bYellowTop,
  totalT: bTotalT, total: bTotalV, measured: bMeasured, measStart: bMeasuredStartHour, measStep: bMeasuredStepHours,
  dashes: bDashHours, dashTop: 2312, dashWidth: 4.5, dashArray: '16 17.7', lineWidth: 10.5,
  yMajor: bYMajorLabels, yMinor: bYMinorTicks, xMajor: bXMajorHours, xMinor: bXMinorHours, xLabels: bXMajorLabels,
  top: 2336, bottom: 4331, right: 2706, xMajorLen: 30, xMinorLen: 21, xLabelY: 4449
});
</script>
</body>
</html>
